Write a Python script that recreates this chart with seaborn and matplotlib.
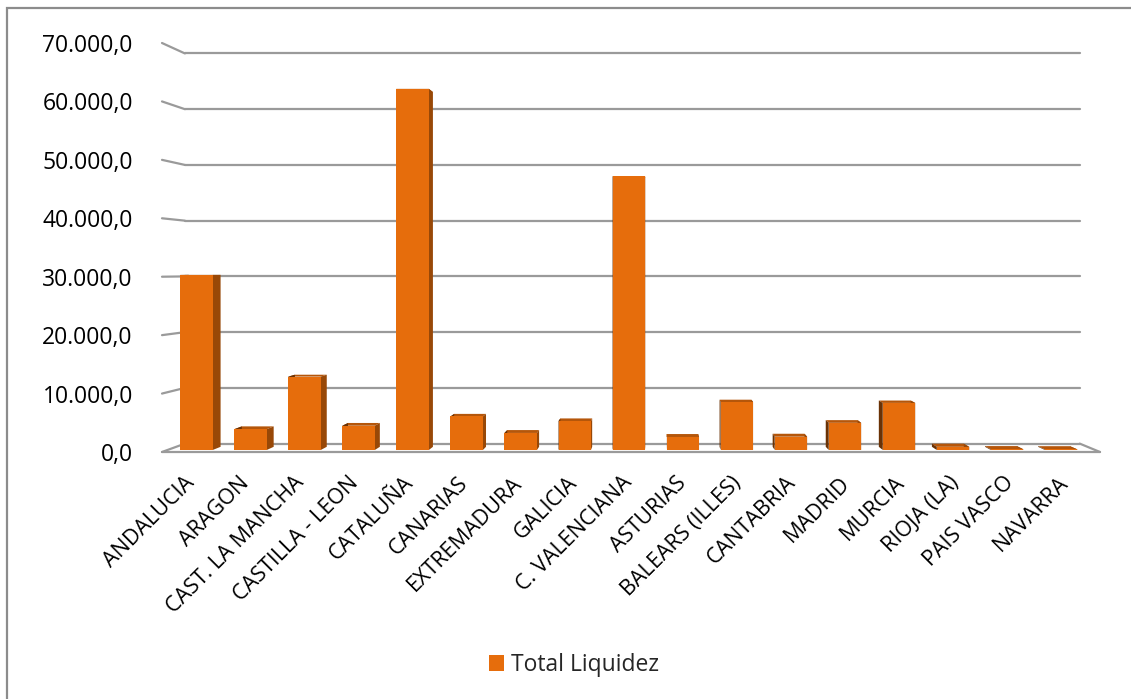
import matplotlib
matplotlib.use("Agg")
import matplotlib.pyplot as plt
import seaborn as sns
from matplotlib.patches import Polygon, Patch, Rectangle
from matplotlib.lines import Line2D
from matplotlib.transforms import Affine2D, IdentityTransform
from matplotlib.ticker import FuncFormatter

# ---- data -------------------------------------------------------------
regions = ["ANDALUCIA", "ARAGON", "CAST. LA MANCHA", "CASTILLA - LEON",
           "CATALUÑA", "CANARIAS", "EXTREMADURA", "GALICIA",
           "C. VALENCIANA", "ASTURIAS", "BALEARS (ILLES)", "CANTABRIA",
           "MADRID", "MURCIA", "RIOJA (LA)", "PAIS VASCO", "NAVARRA"]
liquidez = [30300, 3600, 12700, 4200, 62500, 5800, 2950, 5000, 47400,
            2250, 8300, 2300, 4700, 8150, 550, 130, 110]
series_name = "Total Liquidez"
y_ticks = [0, 10000, 20000, 30000, 40000, 50000, 60000, 70000]

# ---- style ------------------------------------------------------------
ORANGE = "#E66D0C"
SIDE_R = "#984807"
SIDE_L = "#6A3205"
TOP = "#B5560A"
GRID = "#9A9A9A"

sns.set_theme(style="white")
plt.rcParams["font.family"] = ["Open Sans", "DejaVu Sans"]

W, H = 1131, 699
fig = plt.figure(figsize=(W / 100, H / 100), dpi=100)
# the axes box is the front plane of the 3-D floor/wall frame
ax = fig.add_axes([162 / W, 247 / H, 938 / W, 409 / H])

# vanishing point (display px) and depth scaling
VX, VY = 660, 429
D_FRONT, D_BACK = 0.24, 0.62


def depth(d):
    s = 1 - 0.046 * d
    return Affine2D().translate(-VX, -VY).scale(s).translate(VX, VY)


sns.barplot(x=regions, y=liquidez, color=ORANGE, saturation=1, width=0.6,
            ax=ax)
ax.set_xlim(-0.536, 16.63)
ax.set_ylim(0, 70000)

# bars sit a little behind the front plane
bars = list(ax.patches)
for p in bars:
    p.set_transform(ax.transData + depth(D_FRONT))
    p.set_edgecolor("none")
    p.set_linewidth(0)
    p.set_zorder(4)

ident = IdentityTransform()


def to_disp(pts, d):
    return depth(d).transform(ax.transData.transform(pts))


for p in bars:
    x0, y0, w, h = p.get_x(), p.get_y(), p.get_width(), p.get_height()
    pts = [(x0, y0), (x0 + w, y0), (x0 + w, y0 + h), (x0, y0 + h)]
    f = to_disp(pts, D_FRONT)
    b = to_disp(pts, D_BACK)
    faces = [
        ([f[3], f[2], b[2], b[3]], TOP),      # top
        ([f[1], f[2], b[2], b[1]], SIDE_R),   # right side
        ([f[0], f[3], b[3], b[0]], SIDE_L),   # left side
    ]
    for poly, col in faces:
        ax.add_patch(Polygon(poly, closed=True, facecolor=col,
                             edgecolor="none", transform=ident,
                             zorder=3, clip_on=False))

# back-wall gridlines and the left-wall stubs
xmin, xmax = ax.get_xlim()
for v in y_ticks:
    back = to_disp([(xmin, v), (xmax, v)], 1.0)
    ax.add_line(Line2D(back[:, 0], back[:, 1], color=GRID, lw=1.6,
                       transform=ident, zorder=1, clip_on=False))
    stub = [to_disp([(xmin, v)], 0.0)[0], to_disp([(xmin, v)], 1.0)[0]]
    ax.add_line(Line2D([stub[0][0], stub[1][0]], [stub[0][1], stub[1][1]],
                       color=GRID, lw=1.6, transform=ident, zorder=1,
                       clip_on=False))

# floor outline: front edge and right edge
front = to_disp([(xmin, 0), (xmax, 0)], 0.0)
ax.add_line(Line2D(front[:, 0], front[:, 1], color=GRID, lw=1.6,
                   transform=ident, zorder=2, clip_on=False))
rb = [to_disp([(xmax, 0)], 0.0)[0], to_disp([(xmax, 0)], 1.0)[0]]
ax.add_line(Line2D([rb[0][0], rb[1][0]], [rb[0][1], rb[1][1]], color=GRID,
                   lw=1.6, transform=ident, zorder=2, clip_on=False))

# ---- axes text --------------------------------------------------------
def es_fmt(v, _pos):
    return f"{v:,.1f}".replace(",", "X").replace(".", ",").replace("X", ".")


ax.set_yticks(y_ticks)
ax.yaxis.set_major_formatter(FuncFormatter(es_fmt))
ax.tick_params(axis="y", length=0, pad=21, labelsize=16.5,
               labelcolor="#000000")

ax.set_xticks(range(len(regions)))
ax.set_xticklabels(regions, rotation=45, ha="right", va="center",
                   rotation_mode="anchor")
ax.tick_params(axis="x", length=0, pad=20, labelsize=15.5,
               labelcolor="#000000")
ax.set_xlabel("")
ax.set_ylabel("")
for s in ax.spines.values():
    s.set_visible(False)
ax.patch.set_visible(False)
ax.grid(False)

# legend
fig.legend(handles=[Patch(facecolor=ORANGE, edgecolor="none",
                          label=series_name)],
           loc="center", bbox_to_anchor=(574 / W, 34 / H), frameon=False,
           fontsize=16.5, handlelength=0.68, handleheight=0.68,
           handletextpad=0.3)

# chart-area border
fig.add_artist(Rectangle((7 / W, -0.05), 1.2, 691 / H + 0.05,
                         transform=fig.transFigure, fill=False,
                         edgecolor="#8C8C8C", lw=1.6))

fig.savefig("out.png", dpi=100)
